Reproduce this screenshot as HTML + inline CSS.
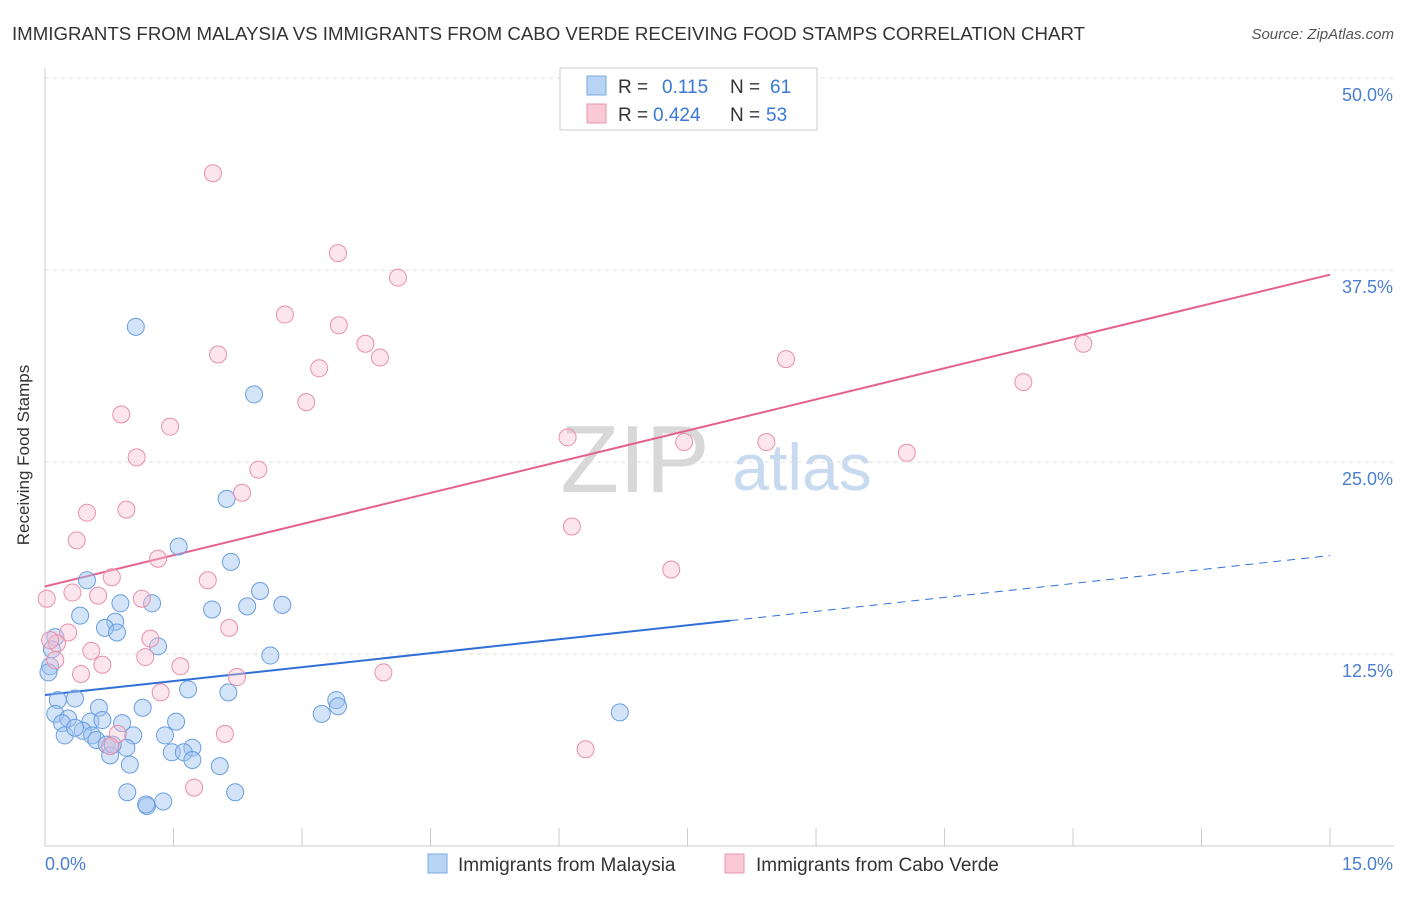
<!DOCTYPE html>
<html><head><meta charset="utf-8"><style>
body{margin:0;background:#fff;font-family:"Liberation Sans",sans-serif;}
svg text{font-family:"Liberation Sans",sans-serif;}
</style></head><body>
<svg id="chart" width="1406" height="892" xmlns="http://www.w3.org/2000/svg">
<text x="12" y="40" font-size="18" fill="#333" textLength="1073" lengthAdjust="spacingAndGlyphs">IMMIGRANTS FROM MALAYSIA VS IMMIGRANTS FROM CABO VERDE RECEIVING FOOD STAMPS CORRELATION CHART</text>
<text x="1394" y="39" font-size="15" fill="#555" text-anchor="end" font-style="italic">Source: ZipAtlas.com</text>
<text x="29" y="455" font-size="17" fill="#333" text-anchor="middle" transform="rotate(-90 29 455)">Receiving Food Stamps</text>
<g><text x="635" y="492" font-size="96" fill="#d8d8d8" font-family="Liberation Serif" text-anchor="middle">ZIP</text><text x="802" y="490" font-size="66" fill="#c8daf0" text-anchor="middle">atlas</text></g>
<g id="grid"></g><g id="axes"></g><g id="lines"></g><g id="pts"></g>
<g>
<rect x="560" y="68" width="257" height="62" fill="#fff" stroke="#ccc"/>
<rect x="587" y="76" width="19" height="19" fill="#b8d4f5" stroke="#7aa8e0"/>
<rect x="587" y="104" width="19" height="19" fill="#f9c9d6" stroke="#e896b0"/>
<text x="618" y="93" font-size="19" fill="#333">R = </text><text x="662" y="93" font-size="19" fill="#3a78d8">0.115</text><text x="730" y="93" font-size="19" fill="#333">N = </text><text x="770" y="93" font-size="19" fill="#3a78d8">61</text>
<text x="618" y="121" font-size="19" fill="#333">R = </text><text x="653" y="121" font-size="19" fill="#3a78d8">0.424</text><text x="730" y="121" font-size="19" fill="#333">N = </text><text x="766" y="121" font-size="19" fill="#3a78d8">53</text>
</g>
<g>
<rect x="428" y="854" width="19" height="19" fill="#b8d4f5" stroke="#7aa8e0"/>
<text x="458" y="871" font-size="19" fill="#333">Immigrants from Malaysia</text>
<rect x="725" y="854" width="19" height="19" fill="#f9c9d6" stroke="#e896b0"/>
<text x="756" y="871" font-size="19" fill="#333">Immigrants from Cabo Verde</text>
</g>
</svg>
<script>
const blueX=[1.06,2.44,2.12,1.56,2.17,0.49,2.51,0.88,1.25,1.95,2.36,2.77,0.41,0.82,0.70,0.84,1.32,0.12,0.08,0.06,2.63,0.15,0.35,1.67,2.14,3.40,3.42,3.23,6.71,0.12,0.27,0.63,1.14,0.20,0.53,0.67,0.90,1.53,0.44,0.55,0.23,0.60,1.03,1.40,0.72,0.95,1.72,0.76,1.48,1.62,1.72,2.04,0.99,0.96,1.19,1.18,1.38,2.22,0.04,0.35,0.79];
const blueY=[33.8,29.4,22.6,19.5,18.5,17.3,16.6,15.8,15.8,15.4,15.6,15.7,15.0,14.6,14.2,13.9,13.0,13.6,12.8,11.7,12.4,9.5,9.6,10.2,10.0,9.5,9.1,8.6,8.7,8.6,8.3,9.0,9.0,8.0,8.1,8.2,8.0,8.1,7.5,7.2,7.2,6.9,7.2,7.2,6.6,6.4,6.4,5.9,6.1,6.1,5.6,5.2,5.3,3.5,2.6,2.7,2.9,3.5,11.3,7.7,6.6];
const pinkX=[1.96,3.42,4.12,2.80,3.43,3.74,2.02,3.91,8.65,3.20,12.12,11.42,3.05,0.89,1.46,6.10,7.46,8.42,10.06,1.07,2.49,2.30,0.49,0.95,6.15,0.37,1.32,0.78,1.90,7.31,0.02,0.32,0.62,1.13,0.27,1.23,0.14,0.54,1.17,1.58,0.12,0.42,0.67,2.24,3.95,1.35,2.15,2.10,0.85,0.76,6.31,1.74,0.06];
const pinkY=[43.8,38.6,37.0,34.6,33.9,32.7,32.0,31.8,31.7,31.1,32.7,30.2,28.9,28.1,27.3,26.6,26.3,26.3,25.6,25.3,24.5,23.0,21.7,21.9,20.8,19.9,18.7,17.5,17.3,18.0,16.1,16.5,16.3,16.1,13.9,13.5,13.2,12.7,12.3,11.7,12.1,11.2,11.8,11.0,11.3,10.0,14.2,7.3,7.3,6.5,6.3,3.8,13.4];
const yTicks=[12.5,25.0,37.5,50.0];
const yTickLabels=["12.5%","25.0%","37.5%","50.0%"];
const xTicks=[0,1.5,3,4.5,6,7.5,9,10.5,12,13.5,15];
const blueFit=[9.83,0.605];
const pinkFit=[16.9,1.353];
const blueSolidEnd=8.0;

const NS="http://www.w3.org/2000/svg";
const sx=v=>45+v*85.67, sy=v=>846-v*15.36;
function mk(tag,attrs,parent){const e=document.createElementNS(NS,tag);for(const k in attrs)e.setAttribute(k,attrs[k]);document.getElementById(parent).appendChild(e);return e;}
yTicks.forEach((t,i)=>{
 const g=mk('line',{x1:45,x2:1394,y1:sy(t),y2:sy(t),stroke:'#ddd','stroke-dasharray':'4,4'},'grid');
 
 
 const l=mk('text',{x:1393,y:sy(t)+23,'font-size':18,fill:'#4a7fd0','text-anchor':'end'},'axes');
 l.textContent=yTickLabels[i];
 
 
});
const tg=mk('line',{x1:45,x2:1394,y1:78,y2:78,stroke:'#ddd','stroke-dasharray':'4,4'},'grid');


const ya=mk('line',{x1:45,x2:45,y1:68,y2:846,stroke:'#ccc'},'axes');


const xa=mk('line',{x1:45,x2:1394,y1:846,y2:846,stroke:'#ccc'},'axes');


xTicks.forEach(t=>{const k=mk('line',{x1:sx(t),x2:sx(t),y1:828,y2:846,stroke:'#ccc'},'axes');
 
 });
const xl0=mk('text',{x:45,y:870,'font-size':18,fill:'#4a7fd0'},'axes');xl0.textContent='0.0%';


const xl1=mk('text',{x:1393,y:870,'font-size':18,fill:'#4a7fd0','text-anchor':'end'},'axes');xl1.textContent='15.0%';


blueX.forEach((x,i)=>{const c=mk('circle',{cx:sx(x),cy:sy(blueY[i]),r:8.5,fill:'rgba(160,196,240,0.45)',stroke:'#6a9ee0','stroke-width':1},'pts');
 
 });
pinkX.forEach((x,i)=>{const c=mk('circle',{cx:sx(x),cy:sy(pinkY[i]),r:8.5,fill:'rgba(248,190,208,0.4)',stroke:'#e890ac','stroke-width':1},'pts');
 
 });
const bl=mk('line',{x1:sx(0),y1:sy(blueFit[0]),x2:sx(blueSolidEnd),y2:sy(blueFit[0]+blueFit[1]*blueSolidEnd),stroke:'#2f6fd6','stroke-width':2},'lines');


const bd=mk('line',{x1:sx(blueSolidEnd),y1:sy(blueFit[0]+blueFit[1]*blueSolidEnd),x2:sx(15),y2:sy(blueFit[0]+blueFit[1]*15),stroke:'#2f6fd6','stroke-width':1,'stroke-dasharray':'8,6'},'lines');


const pl=mk('line',{x1:sx(0),y1:sy(pinkFit[0]),x2:sx(15),y2:sy(pinkFit[0]+pinkFit[1]*15),stroke:'#e5608a','stroke-width':2},'lines');


</script>
</body></html>
